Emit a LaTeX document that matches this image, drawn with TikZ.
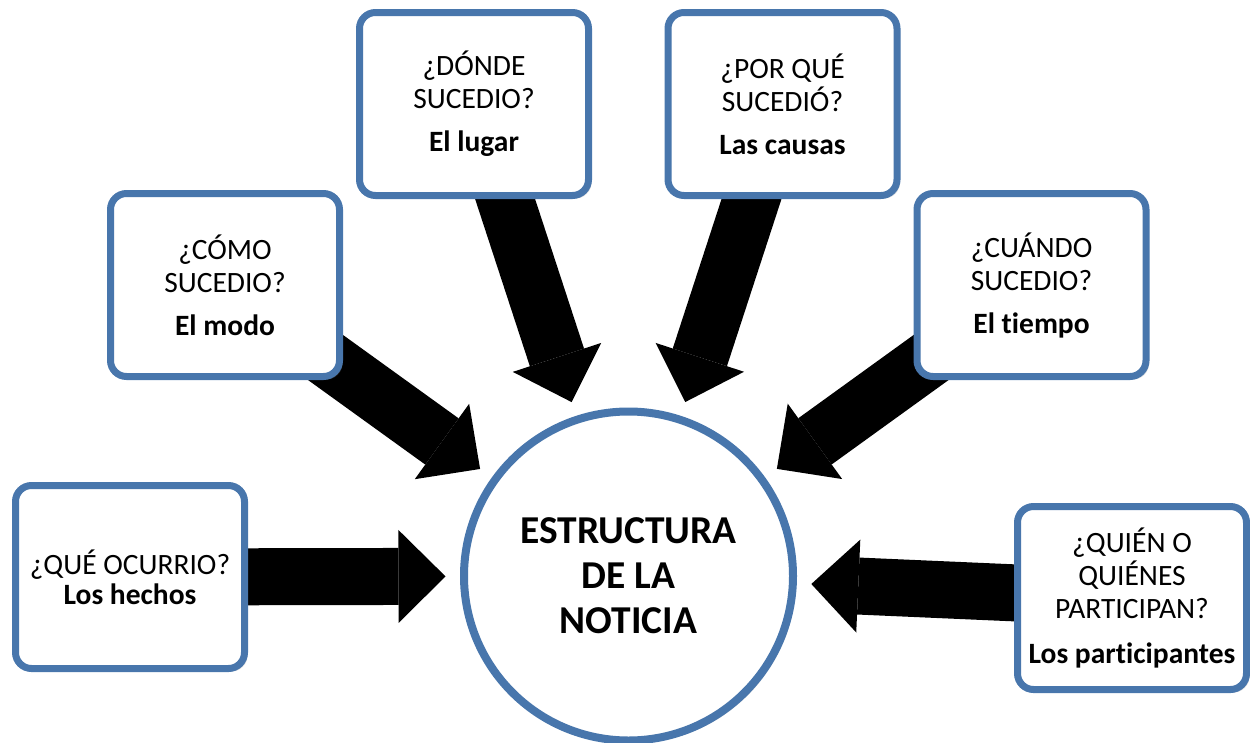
\documentclass[tikz,border=0pt]{standalone}
\usepackage{fontspec}
\setmainfont{Carlito}[Ligatures=NoCommon]
\usepackage{tikz}
\usepackage{xcolor}
\usetikzlibrary{arrows.meta, shadows, backgrounds}
\definecolor{boxblue}{RGB}{72,118,172}

\begin{document}
\begin{tikzpicture}[x=1pt,y=-1pt,
   question/.style={rectangle,rounded corners=16pt,draw=boxblue,line width=7pt,fill=white,
      minimum width=229pt,minimum height=183pt,align=center,font=\fontsize{29.5}{33}\selectfont,
      drop shadow={opacity=0.25,shadow xshift=3pt,shadow yshift=-3pt}},
   topic/.style={circle,draw=boxblue,line width=8pt,fill=white,minimum size=329pt,align=center,
      font=\fontsize{39.5}{45}\selectfont\bfseries,
      drop shadow={opacity=0.25,shadow xshift=3pt,shadow yshift=-3pt}},
   bigarrow/.style={line width=57pt,black,shorten >=14.5pt,
      -{Triangle[length=47pt,width=93pt,line width=0pt]}}]
   \useasboundingbox (0,0) rectangle (1250,742);
   \node[topic] (noticia) at (628.5,576) {ESTRUCTURA\\DE LA\\NOTICIA};
   \node[question] (que) at (130,577) {¿QUÉ OCURRIO?\\[-3pt]\textbf{Los hechos}};
   \node[question] (como) at (225,285) {¿CÓMO\\SUCEDIO?\\[10pt]\textbf{El modo}};
   \node[question] (donde) at (474,104) {¿DÓNDE\\SUCEDIO?\\[10pt]\textbf{El lugar}};
   \node[question] (porque) at (782.5,104) {¿POR QUÉ\\SUCEDIÓ?\\[10pt]\textbf{Las causas}};
   \node[question] (cuando) at (1031.5,285) {¿CUÁNDO\\SUCEDIO?\\[10pt]\textbf{El tiempo}};
   \node[question] (quien) at (1132,598) {¿QUIÉN O\\QUIÉNES\\PARTICIPAN?\\[12pt]\textbf{Los participantes}};
   \begin{scope}[on background layer]
      \foreach \src in {que,como,donde,porque,cuando,quien}
         \draw[bigarrow] (\src.center) -- (noticia);
   \end{scope}
\end{tikzpicture}
\end{document}
